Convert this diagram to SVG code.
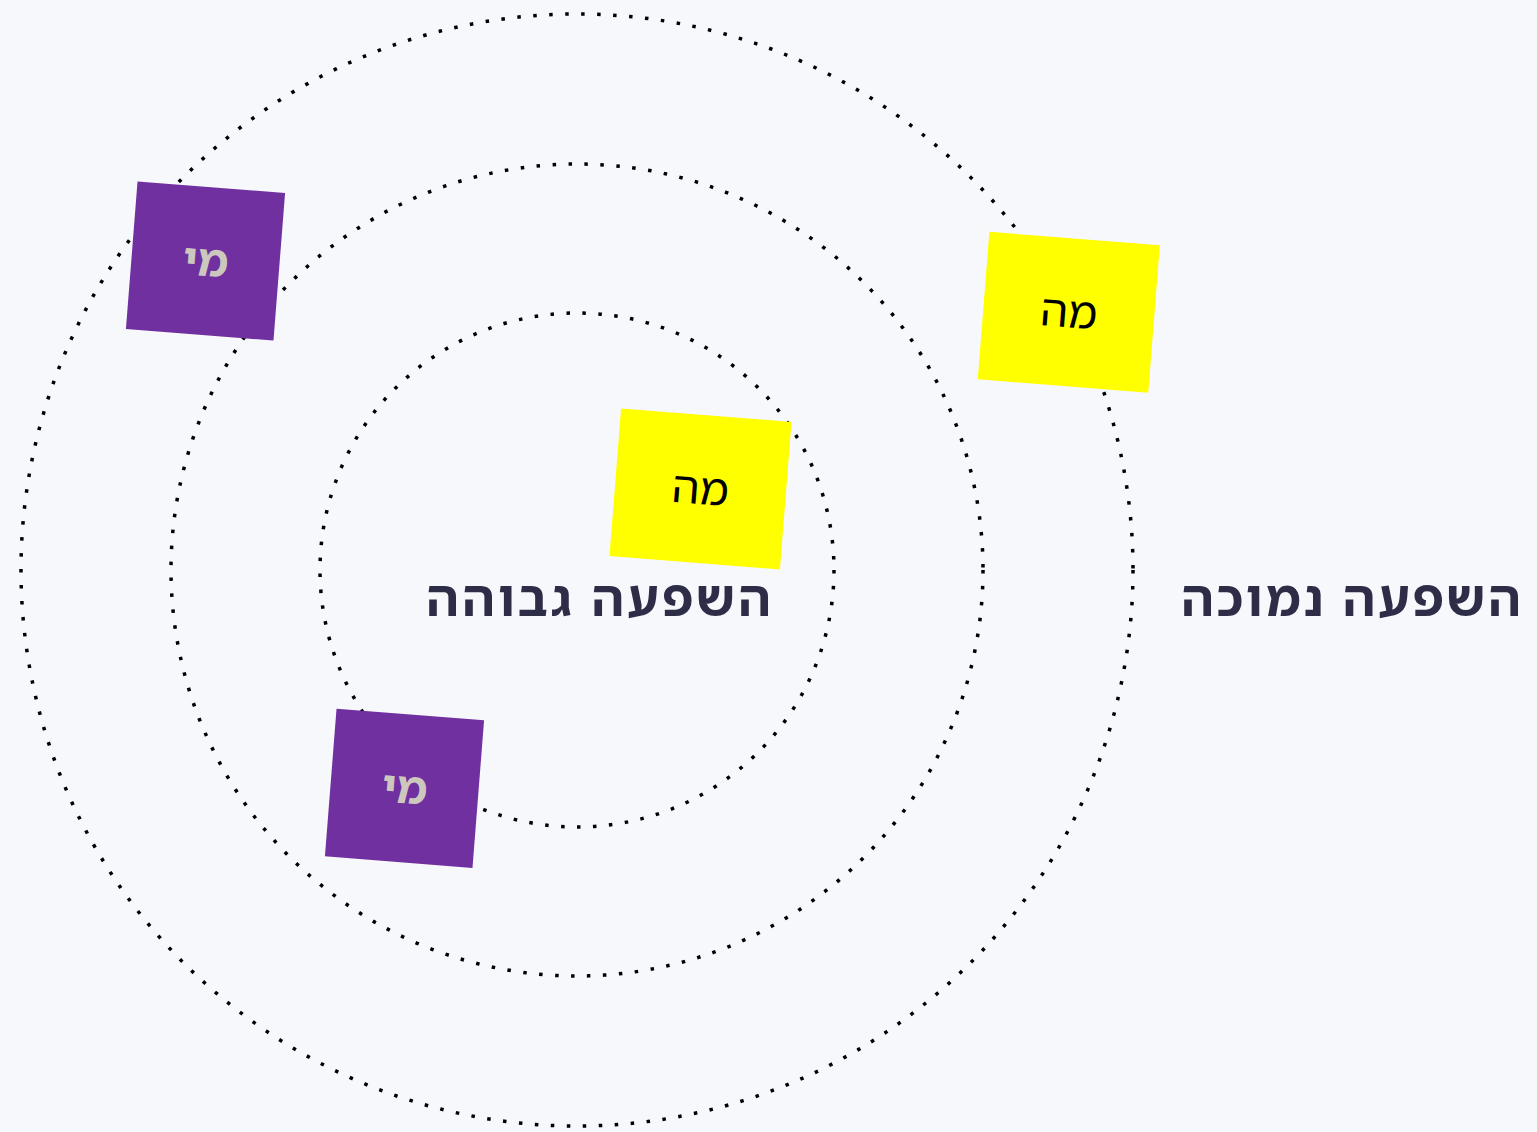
<svg xmlns="http://www.w3.org/2000/svg" width="1537" height="1132" viewBox="0 0 1537 1132">
  <style>
    .ring { fill: none; stroke: #000; stroke-width: 3.5; stroke-dasharray: 3.5 12.5; }
    .who rect { fill: #7030A0; }
    .who text { fill: #CCC8BE; font-family: "Noto Sans Hebrew", "Noto Sans", sans-serif; font-weight: bold; font-size: 44px; text-anchor: middle; }
    .what rect { fill: #FFFF00; }
    .what text { fill: #000; font-family: "Noto Sans Hebrew", "Noto Sans", sans-serif; font-size: 44px; text-anchor: middle; }
    .label { fill: #2E2D47; font-family: "Noto Sans Hebrew", "Noto Sans", sans-serif; font-weight: bold; font-size: 50px; text-anchor: middle; }
  </style>
  <rect width="1537" height="1132" fill="#F7F8FC"/>
  <g id="connectors">
    <circle class="ring" cx="577" cy="570" r="556"/>
    <circle class="ring" cx="577" cy="570" r="406"/>
    <circle class="ring" cx="577" cy="570" r="257"/>
  </g>
  <g id="who-1" class="who" transform="translate(205.5 261) rotate(4.5)">
    <rect x="-74" y="-74" width="148" height="148"/>
    <text x="0" y="15" direction="rtl">מי</text>
  </g>
  <g id="what-1" class="what" transform="translate(1068.8 312.3) rotate(4.5)">
    <rect x="-85.5" y="-74" width="171" height="148"/>
    <text x="0" y="15" direction="rtl">מה</text>
  </g>
  <g id="what-2" class="what" transform="translate(700.5 489) rotate(4.5)">
    <rect x="-85.5" y="-74" width="171" height="148"/>
    <text x="0" y="15" direction="rtl">מה</text>
  </g>
  <g id="who-2" class="who" transform="translate(404.5 788.3) rotate(4.5)">
    <rect x="-74" y="-74" width="148" height="148"/>
    <text x="0" y="15" direction="rtl">מי</text>
  </g>
  <g id="label-high">
    <text class="label" x="598.5" y="616" direction="rtl" textLength="345" lengthAdjust="spacing">השפעה גבוהה</text>
  </g>
  <g id="label-low">
    <text class="label" x="1351" y="616" direction="rtl" textLength="340" lengthAdjust="spacing">השפעה נמוכה</text>
  </g>
</svg>
